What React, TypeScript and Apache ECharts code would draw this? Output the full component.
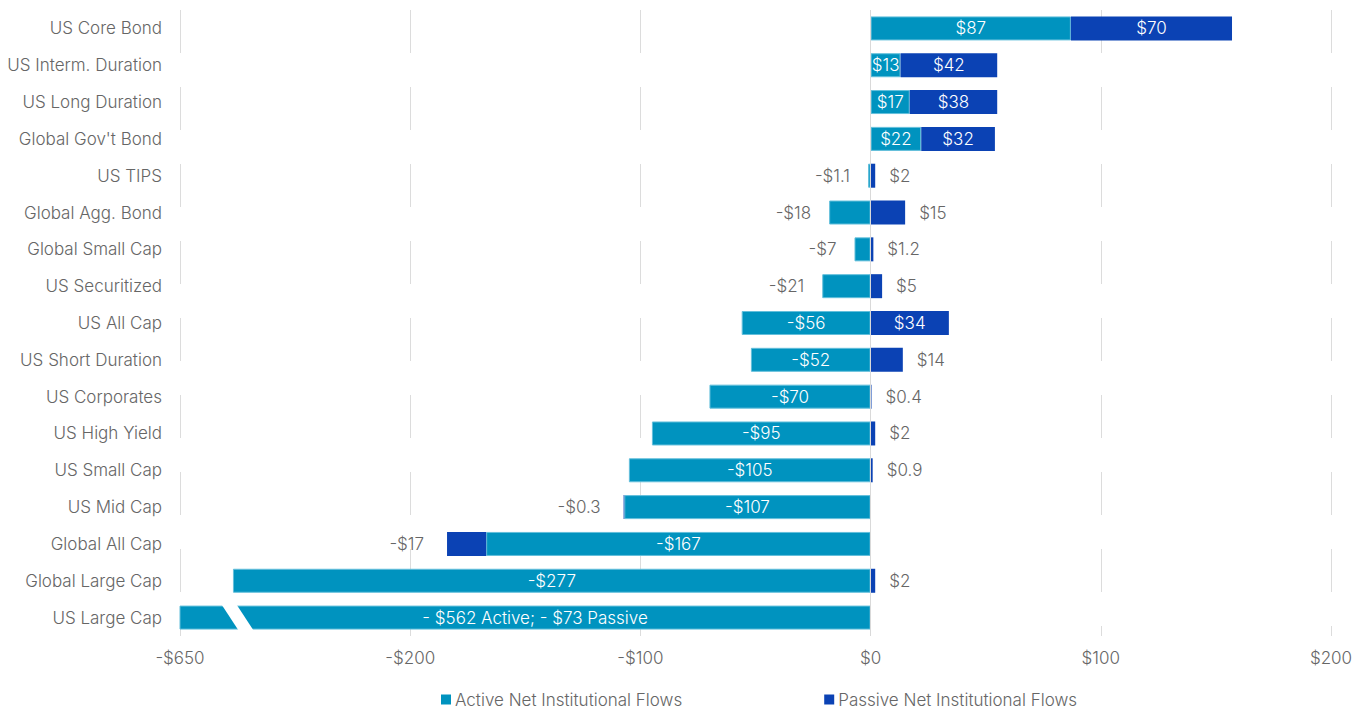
import React, { useEffect, useRef } from "react";
import * as echarts from "echarts";

const categories = [
  "US Core Bond",
  "US Interm. Duration",
  "US Long Duration",
  "Global Gov't Bond",
  "US TIPS",
  "Global Agg. Bond",
  "Global Small Cap",
  "US Securitized",
  "US All Cap",
  "US Short Duration",
  "US Corporates",
  "US High Yield",
  "US Small Cap",
  "US Mid Cap",
  "Global All Cap",
  "Global Large Cap",
  "US Large Cap",
];

const activeFlows = [87, 13, 17, 22, -1.1, -18, -7, -21, -56, -52, -70, -95, -105, -107, -167, -277, -562];
const passiveFlows = [70, 42, 38, 32, 2, 15, 1.2, 5, 34, 14, 0.4, 2, 0.9, -0.3, -17, 2, -73];

// categories whose value labels sit outside the bar
const activeOutside = ["US TIPS", "Global Agg. Bond", "Global Small Cap", "US Securitized"];
const passiveOutside = [
  "US TIPS", "Global Agg. Bond", "Global Small Cap", "US Securitized", "US Short Duration",
  "US Corporates", "US High Yield", "US Small Cap", "US Mid Cap", "Global All Cap", "Global Large Cap",
];

// broken bar (value exceeds the axis)
const brokenCategory = "US Large Cap";
const brokenNote = "- $562 Active; - $73 Passive";
const breakMarks = [[-275, "US Large Cap"]];

// x axis ticks (the leftmost tick stands for the broken range)
const xTickValues = [-300, -200, -100, 0, 100, 200];
const xTickLabels = ["-$650", "-$200", "-$100", "$0", "$100", "$200"];

const ACTIVE = "#0093bf";
const PASSIVE = "#0b42b4";
const GRAY = "#666666";
const FONT = "Inter, 'Noto Sans', sans-serif";
const FW = 300;
const FS = 17;

const fmt = (v: number) => (v < 0 ? "-$" : "$") + Math.abs(v);

export default function App() {
  const ref = useRef<HTMLDivElement>(null);

  useEffect(() => {
    if (!ref.current) return;
    const chart = echarts.init(ref.current, undefined, { renderer: "svg" });

    const activeData = activeFlows.map((v, i) => {
      const cat = categories[i];
      if (cat === brokenCategory) {
        return {
          value: v,
          label: { show: true, position: "inside", color: "#fff", formatter: brokenNote, offset: [10, 0] },
        };
      }
      const outside = activeOutside.includes(cat);
      return {
        value: v,
        label: outside
          ? { show: true, position: v < 0 ? "left" : "right", distance: 18, color: GRAY }
          : { show: true, position: "inside", color: "#fff" },
      };
    });

    const passiveData = passiveFlows.map((v, i) => {
      const cat = categories[i];
      if (cat === brokenCategory) {
        return { value: v, label: { show: false } };
      }
      const outside = passiveOutside.includes(cat);
      return {
        value: v,
        label: outside
          ? { show: true, position: v < 0 ? "left" : "right", distance: v < 0 ? 23 : 14, color: GRAY }
          : { show: true, position: "inside", color: "#fff" },
      };
    });

    const labelFormatter = (p: any) => fmt(p.value);

    chart.setOption({
      animation: false,
      textStyle: { fontFamily: FONT, fontWeight: FW },
      grid: { left: 180, right: 22, top: 10, bottom: 74, outerBoundsMode: "none" },
      legend: {
        data: ["Active Net Institutional Flows", "Passive Net Institutional Flows"],
        left: 441,
        top: 691,
        padding: 0,
        icon: "rect",
        itemWidth: 10,
        itemHeight: 10,
        itemGap: 142,
        itemStyle: { borderWidth: 0 },
        textStyle: { fontSize: FS, color: GRAY, fontFamily: FONT, fontWeight: FW, padding: [0, 0, 0, -1] },
      },
      xAxis: {
        type: "value",
        min: -300,
        max: 200,
        interval: 100,
        axisLine: { show: false },
        axisTick: { show: false },
        splitLine: { show: true, lineStyle: { color: "#dcdcdc", width: 1, type: [43, 34] } },
        axisLabel: {
          fontSize: FS,
          color: GRAY,
          fontFamily: FONT,
          fontWeight: FW,
          margin: 13,
          formatter: (v: number) => {
            const idx = xTickValues.indexOf(v);
            return idx >= 0 ? xTickLabels[idx] : "";
          },
        },
      },
      yAxis: {
        type: "category",
        data: categories,
        inverse: true,
        axisLine: { show: false },
        axisTick: { show: false },
        splitLine: { show: false },
        axisLabel: { fontSize: FS, color: GRAY, fontFamily: FONT, fontWeight: FW, margin: 18, verticalAlign: "middle", padding: [0, 0, 2, 0] },
      },
      series: [
        {
          name: "Active Net Institutional Flows",
          type: "bar",
          stack: "flows",
          barWidth: 24,
          data: activeData,
          itemStyle: { color: ACTIVE, borderColor: "#63bfdb", borderWidth: 1 },
          label: { fontSize: FS, fontFamily: FONT, fontWeight: FW, formatter: labelFormatter },
          markLine: {
            silent: true,
            symbol: ["none", "none"],
            label: { show: false },
            lineStyle: { color: "#d9d9d9", type: "solid", width: 1 },
            data: [{ xAxis: 0 }],
          },
        },
        {
          name: "Passive Net Institutional Flows",
          type: "bar",
          stack: "flows",
          barWidth: 24,
          data: passiveData,
          itemStyle: { color: PASSIVE },
          label: { fontSize: FS, fontFamily: FONT, fontWeight: FW, formatter: labelFormatter },
        },
        {
          name: "break",
          type: "custom",
          silent: true,
          z: 10,
          clip: false,
          encode: { x: 0, y: 1 },
          data: breakMarks,
          renderItem: (_params: any, api: any) => {
            const c = api.coord([api.value(0), api.value(1)]);
            const h = 13;
            const w = 15;
            const s = 8.5;
            return {
              type: "polygon",
              shape: {
                points: [
                  [c[0] - s - w / 2, c[1] - h],
                  [c[0] - s + w / 2, c[1] - h],
                  [c[0] + s + w / 2, c[1] + h],
                  [c[0] + s - w / 2, c[1] + h],
                ],
              },
              style: { fill: "#ffffff" },
            };
          },
        },
      ],
    });

    return () => chart.dispose();
  }, []);

  return (
    <div
      ref={ref}
      style={{ position: "fixed", left: 0, top: 0, width: 1353, height: 710, background: "#fff" }}
    />
  );
}
